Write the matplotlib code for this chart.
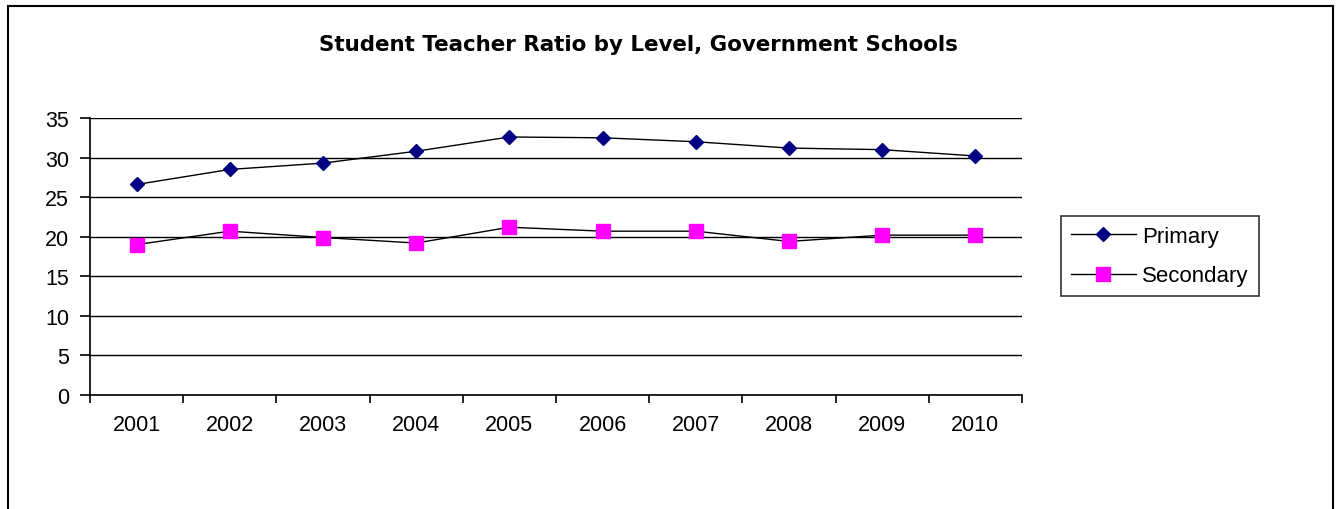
import numpy as np
import matplotlib
matplotlib.use("Agg")
import matplotlib.pyplot as plt
from matplotlib.patches import Rectangle

years = ['2001', '2002', '2003', '2004', '2005', '2006', '2007', '2008', '2009', '2010']
primary = [26.6, 28.5, 29.3, 30.8, 32.6, 32.5, 32.0, 31.2, 31.0, 30.2]
secondary = [19.0, 20.7, 19.9, 19.2, 21.2, 20.7, 20.7, 19.4, 20.2, 20.2]
y_ticks = [0, 5, 10, 15, 20, 25, 30, 35]

plt.rcParams['font.family'] = ['Liberation Sans', 'DejaVu Sans']

W, H = 1337, 510
fig = plt.figure(figsize=(W / 100, H / 100), dpi=100)

# plot area in pixel coords: left 90, right 1022, top 119, bottom 396
ax = fig.add_axes([90 / W, 1 - 396 / H, (1022 - 90) / W, (396 - 119) / H])

x = np.arange(len(years))
ax.plot(x, primary, color='black', lw=1, marker='D', markersize=7,
        markerfacecolor='#000080', markeredgecolor='#000080', label='Primary', zorder=3)
ax.plot(x, secondary, color='black', lw=1, marker='s', markersize=10,
        markerfacecolor='#FF00FF', markeredgecolor='#FF00FF', label='Secondary', zorder=3)

ax.set_xlim(-0.5, len(years) - 0.5)
ax.set_ylim(0, 35)
ax.set_yticks(y_ticks)
ax.set_xticks(x)
ax.set_xticklabels(years)
ax.set_xticks(np.arange(-0.5, len(years)), minor=True)
ax.tick_params(axis='x', which='major', length=0, pad=14, labelsize=15.5)
ax.tick_params(axis='x', which='minor', length=6, width=1.2, direction='out')
ax.tick_params(axis='y', length=7, width=1.2, pad=8, labelsize=15.5)

ax.grid(axis='y', color='black', lw=1)
ax.set_axisbelow(True)
for s in ['top', 'right']:
    ax.spines[s].set_visible(False)
for s in ['left', 'bottom']:
    ax.spines[s].set_linewidth(1.2)

fig.text(638 / W, 1 - 45 / H, 'Student Teacher Ratio by Level, Government Schools',
         ha='center', va='center', fontsize=15.4, fontweight='bold', family='DejaVu Sans')

leg = fig.legend(loc='center', bbox_to_anchor=(1160 / W, 1 - 257 / H), fontsize=16,
                 frameon=True, fancybox=False, edgecolor='black', handlelength=2.9,
                 borderpad=0.45, labelspacing=0.85, handletextpad=0.3, borderaxespad=0)
leg.get_frame().set_linewidth(1.2)

fig.patches.append(Rectangle((8 / W, -0.02), (1333 - 8) / W, 0.02 + (H - 7) / H,
                             transform=fig.transFigure, fill=False,
                             edgecolor='black', lw=1.5))

fig.savefig('out.png', dpi=100)
